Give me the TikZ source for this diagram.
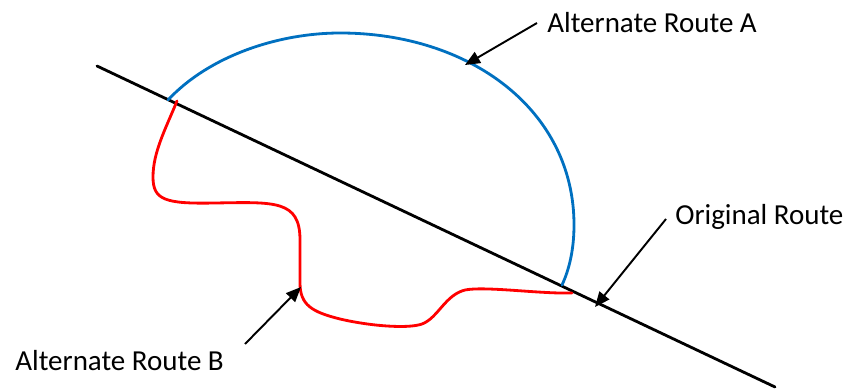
\documentclass[tikz,border=0pt]{standalone}
\usepackage{fontspec}
\setmainfont{Carlito}
\definecolor{RouteBlue}{HTML}{0070C0}
\definecolor{RouteRed}{HTML}{FF0000}
\usetikzlibrary{arrows.meta, positioning}

\begin{document}
\begin{tikzpicture}[
  x=0.02cm, y=-0.02cm,
  route/.style={line width=1.6pt, line cap=round},
  label/.style={font=\fontsize{16.5}{19}\selectfont, inner sep=0pt, anchor=base west},
  pointer/.style={-{Triangle[length=0.3cm, width=0.25cm]}, line width=1.1pt},
  >=Stealth
]
  \useasboundingbox (0,0) rectangle (851,391);

  % original route
  \coordinate (start) at (97,66);
  \coordinate (finish) at (775,387);
  \draw[route, black] (start) -- (finish);

  % alternate route A
  \coordinate (a0) at (168,100);
  \coordinate (a1) at (562,285);
  \draw[route, RouteBlue] (a0) .. controls (210,55) and (280,33) .. (340,33)
    .. controls (470,33) and (574,110) .. (574,225)
    .. controls (574,250) and (569,270) .. (a1);

  % alternate route B
  \coordinate (b0) at (177,101);
  \coordinate (b1) at (572,293);
  \draw[route, RouteRed] (b0) .. controls (166,128) and (153,152) .. (153,177)
    .. controls (153,200) and (165,204) .. (215,203)
    .. controls (275,202) and (300,200) .. (300,240)
    -- (300,283)
    .. controls (300,305) and (312,312) .. (340,319)
    .. controls (370,326) and (408,329) .. (422,324)
    .. controls (438,318) and (445,295) .. (465,290)
    .. controls (485,286) and (540,294) .. (b1);

  % labels
  \node[label] (labA) at (547,33) {Alternate Route A};
  \node[label] (labO) at (675,225) {Original Route};
  \node[label] (labB) at (15,370) {Alternate Route B};

  \coordinate (tipA) at (465,65);
  \coordinate (tipO) at (595,307);
  \coordinate (tipB) at (301,287);

  \draw[pointer] ([shift={(-10,-10)}]labA.base west) -- (tipA);
  \draw[pointer] ([shift={(-9,-6)}]labO.base west) -- (tipO);
  \draw[pointer] ([shift={(230,-26)}]labB.base west) -- (tipB);
\end{tikzpicture}
\end{document}
